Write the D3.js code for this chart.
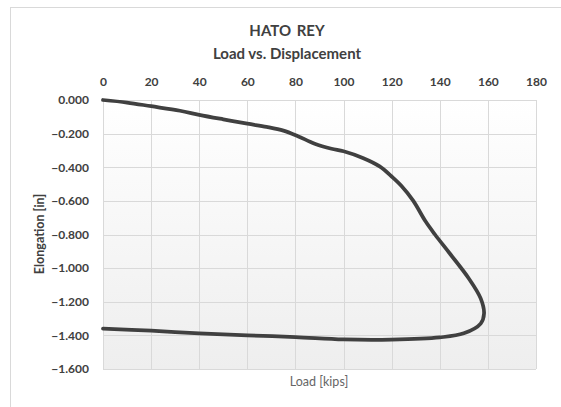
<!DOCTYPE html>
<html>
<head>
<meta charset="utf-8">
<script src="https://cdn.jsdelivr.net/npm/d3@7"></script>
<style>
  body { margin: 0; background: #fff; }
  text { font-family: Lato, "Open Sans", sans-serif; }
</style>
</head>
<body>
<div class="canvas"></div>
<script>
// load (kips) and elongation (in), in drawing order
const load = [0, 10, 20, 32, 40, 50, 60, 68, 75, 81, 88, 95, 100, 108, 115, 120, 124, 129, 134, 138, 144, 152, 157, 158.4, 157, 150, 140, 120, 100, 80, 60, 40, 20, 0];
const elong = [0, -0.015, -0.037, -0.064, -0.088, -0.115, -0.141, -0.16, -0.182, -0.215, -0.26, -0.29, -0.305, -0.345, -0.395, -0.455, -0.51, -0.6, -0.72, -0.8, -0.91, -1.06, -1.18, -1.27, -1.33, -1.388, -1.412, -1.425, -1.424, -1.41, -1.4, -1.388, -1.372, -1.36];
const xTicks = [0, 20, 40, 60, 80, 100, 120, 140, 160, 180];
const yTicks = [0, -0.2, -0.4, -0.6, -0.8, -1.0, -1.2, -1.4, -1.6];

const dims = { width: 561, height: 407 };
const plot = { left: 103, right: 536, top: 100, bottom: 369 };

const svg = d3.select('.canvas')
    .append('svg')
    .attr('width', dims.width)
    .attr('height', dims.height);

// outer chart border
svg.append('rect')
    .attr('x', 10.5).attr('y', 7.5)
    .attr('width', 560).attr('height', 410)
    .attr('fill', '#fff')
    .attr('stroke', '#d9d9d9');

const grad = svg.append('defs').append('linearGradient')
    .attr('id', 'bg').attr('x1', 0).attr('y1', 0).attr('x2', 0).attr('y2', 1);
grad.append('stop').attr('offset', '0%').attr('stop-color', '#ffffff');
grad.append('stop').attr('offset', '100%').attr('stop-color', '#eeeeee');

const x = d3.scaleLinear().domain([0, 180]).range([plot.left, plot.right]);
const y = d3.scaleLinear().domain([-1.6, 0]).range([plot.bottom, plot.top]);

svg.append('rect')
    .attr('x', plot.left).attr('y', plot.top)
    .attr('width', plot.right - plot.left).attr('height', plot.bottom - plot.top)
    .attr('fill', 'url(#bg)');

// gridlines
svg.append('g').selectAll('line')
    .data(xTicks)
    .enter().append('line')
        .attr('x1', d => Math.round(x(d)) + 0.5).attr('x2', d => Math.round(x(d)) + 0.5)
        .attr('y1', plot.top).attr('y2', plot.bottom)
        .attr('stroke', '#d9d9d9');

svg.append('g').selectAll('line')
    .data(yTicks)
    .enter().append('line')
        .attr('x1', plot.left).attr('x2', plot.right)
        .attr('y1', d => Math.round(y(d)) + 0.5).attr('y2', d => Math.round(y(d)) + 0.5)
        .attr('stroke', '#d9d9d9');

// top x axis labels
const xAxis = d3.axisTop(x).tickValues(xTicks).tickSize(0).tickPadding(0);
const xg = svg.append('g')
    .attr('transform', `translate(0, 86)`)
    .call(xAxis);
xg.select('.domain').remove();
xg.selectAll('text')
    .attr('fill', '#404040')
    .style('font-size', '12px')
    .style('font-weight', 'bold')
    .style('font-family', 'Lato, sans-serif');

const yAxis = d3.axisLeft(y).tickValues(yTicks).tickSize(0).tickPadding(0)
    .tickFormat(d3.format('.3f'));
const yg = svg.append('g')
    .attr('transform', `translate(89, 0)`)
    .call(yAxis);
yg.select('.domain').remove();
yg.selectAll('text')
    .attr('fill', '#404040')
    .style('font-size', '12px')
    .style('font-weight', 'bold')
    .style('font-family', 'Lato, sans-serif');

// the curve
const line = d3.line()
    .x(d => x(d[0]))
    .y(d => y(d[1]))
    .curve(d3.curveCatmullRom.alpha(0.5));

svg.append('path')
    .datum(d3.zip(load, elong))
    .attr('d', line)
    .attr('fill', 'none')
    .attr('stroke', '#404040')
    .attr('stroke-width', 3.75)
    .attr('stroke-linejoin', 'round')
    .attr('stroke-linecap', 'round');

// titles
svg.append('text')
    .attr('x', 287).attr('y', 36)
    .attr('text-anchor', 'middle')
    .attr('fill', '#404040')
    .style('font-size', '15px').style('font-weight', 'bold')
    .style('word-spacing', '2px')
    .text('HATO REY');

svg.append('text')
    .attr('x', 287).attr('y', 59)
    .attr('text-anchor', 'middle')
    .attr('fill', '#404040')
    .style('font-size', '15px').style('font-weight', 'bold')
    .text('Load vs. Displacement');

svg.append('text')
    .attr('transform', 'translate(44, 234) rotate(-90)')
    .attr('text-anchor', 'middle')
    .attr('fill', '#404040')
    .style('font-size', '12.5px').style('font-weight', 'bold')
    .text('Elongation [in]');

svg.append('text')
    .attr('x', 319).attr('y', 386)
    .attr('text-anchor', 'middle')
    .attr('fill', '#666')
    .style('font-size', '12.5px')
    .text('Load [kips]');
</script>
</body>
</html>
